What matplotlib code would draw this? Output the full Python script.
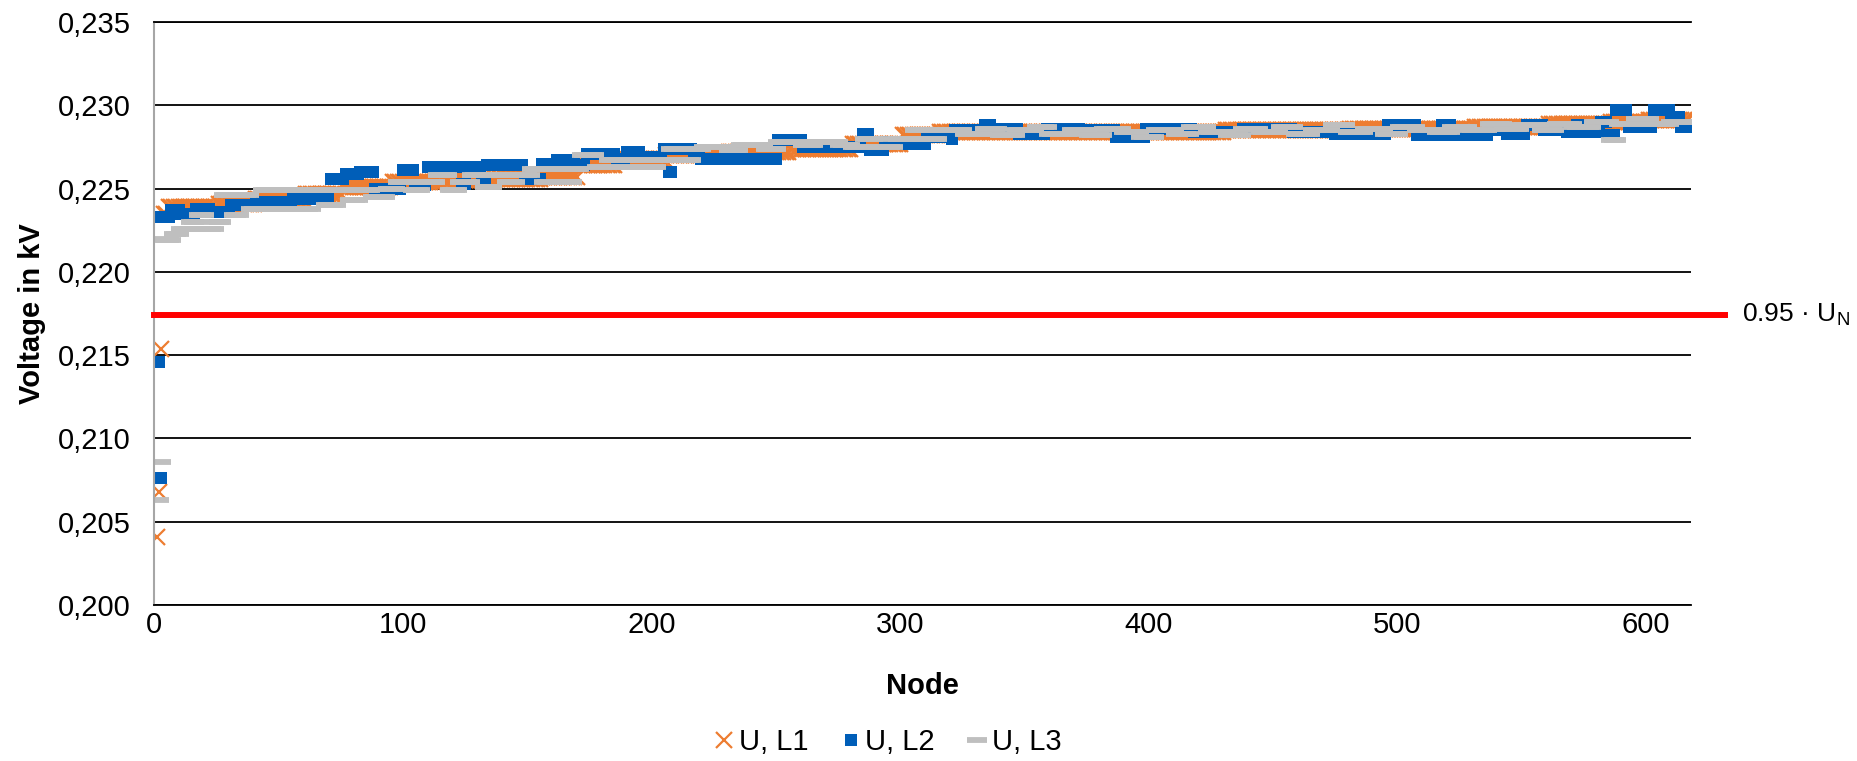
import matplotlib
matplotlib.use("Agg")
import matplotlib.pyplot as plt
import matplotlib.transforms as mtransforms
import numpy as np

plt.rcParams['font.family'] = ['Liberation Sans', 'DejaVu Sans']

# voltages in mV, given as (value, number of consecutive nodes)
l1_runs = [(204.1, 1), (206.8, 1), (215.4, 1),
           (223.5, 2), (223.9, 20), (224.1, 15), (224.4, 20), (224.7, 15),
           (225.1, 20), (225.4, 20), (225.5, 20), (225.6, 20), (225.7, 15),
           (226.4, 15), (226.8, 20), (227.0, 25), (227.2, 25), (227.4, 25),
           (227.7, 20), (228.2, 15), (228.4, 15), (228.4, 100), (228.5, 50),
           (228.6, 50), (228.7, 30), (228.9, 25), (229.0, 15), (229.1, 17)]

l2_runs = [(223.3, 1), (214.6, 1), (207.6, 1),
           (223.3, 3), (223.7, 4), (223.5, 6), (223.8, 6), (223.6, 8),
           (224.0, 10), (224.2, 15), (224.4, 15), (225.6, 6), (225.9, 6),
           (226.0, 6), (225.0, 11), (226.1, 5), (225.2, 5), (226.3, 14),
           (225.3, 2), (226.3, 6), (225.5, 2), (226.4, 15), (225.6, 7),
           (226.5, 6), (226.7, 8), (226.4, 4), (227.1, 12), (226.8, 4),
           (227.2, 6), (226.9, 9), (227.4, 2), (226.0, 2), (227.4, 8),
           (227.0, 3), (226.8, 31), (227.9, 10), (227.5, 24), (228.3, 3),
           (227.3, 6), (227.8, 8), (227.7, 9), (228.1, 10), (228.0, 1),
           (228.5, 12), (228.8, 3), (228.6, 11), (228.3, 11), (228.6, 14),
           (228.5, 14), (228.1, 12), (228.6, 19), (228.4, 20), (228.6, 20),
           (228.4, 17), (228.3, 21), (228.8, 12), (228.2, 10), (228.8, 4),
           (228.2, 15), (228.5, 7), (228.3, 8), (228.8, 7), (228.5, 9),
           (228.4, 4), (228.8, 2), (228.4, 8), (229.0, 3), (228.2, 3),
           (229.7, 5), (228.7, 10), (229.7, 7), (229.3, 4), (228.7, 4)]

l3_runs = [(222.0, 1), (206.3, 1), (208.6, 1),
           (221.9, 4), (222.3, 3), (222.6, 4), (223.0, 3), (223.4, 3),
           (222.6, 4), (223.0, 3), (224.6, 4), (223.4, 3), (224.6, 4),
           (223.8, 5), (224.9, 5), (223.8, 5), (224.9, 5), (223.8, 5),
           (224.9, 5), (224.0, 5), (224.9, 5), (224.3, 4), (224.9, 5),
           (224.5, 6), (225.0, 4), (225.4, 6), (224.9, 4), (225.4, 6),
           (225.8, 5), (224.9, 4), (225.4, 5), (225.8, 5), (225.1, 4),
           (225.8, 5), (225.4, 4), (225.8, 6), (226.2, 5), (225.4, 4),
           (226.2, 5), (225.4, 3), (226.2, 3), (227.0, 6), (226.3, 5),
           (226.7, 5), (226.3, 4), (226.7, 6), (226.3, 5), (226.7, 5),
           (227.4, 5), (226.7, 4), (227.4, 4), (227.5, 10), (227.3, 5),
           (227.6, 10), (227.4, 5), (227.8, 10), (227.6, 5), (227.8, 10),
           (227.6, 5), (227.5, 5), (228.0, 5), (227.5, 7), (228.0, 8),
           (228.5, 5), (228.0, 5), (228.5, 10),
           (228.3, 8), (228.6, 6), (228.2, 7), (228.5, 8), (228.7, 5),
           (228.3, 9), (228.5, 7), (228.2, 6), (228.6, 8), (228.4, 7),
           (228.1, 6), (228.5, 8), (228.3, 6), (228.7, 7), (228.4, 8),
           (228.2, 6), (228.6, 7), (228.4, 8), (228.7, 6), (228.3, 7),
           (228.5, 8), (228.8, 6), (228.4, 7), (228.6, 8), (228.3, 6),
           (228.7, 7), (228.5, 8), (228.4, 6), (228.7, 7), (228.5, 8),
           (228.9, 6), (228.6, 7), (228.8, 8), (228.5, 6), (228.9, 7),
           (228.7, 8), (229.0, 7), (227.9, 3), (228.9, 7), (229.2, 6),
           (228.9, 8), (229.0, 8)]

u_limit = 0.2174   # 0.95 * U_N in kV
y_ticks = [0.200, 0.205, 0.210, 0.215, 0.220, 0.225, 0.230, 0.235]
x_ticks = [0, 100, 200, 300, 400, 500, 600]


def expand(runs):
    vals = np.repeat([v for v, n in runs], [n for v, n in runs]) / 1000.0
    return np.arange(1, len(vals) + 1), vals


fig = plt.figure(figsize=(18.58, 7.61), dpi=100)
ax = fig.add_axes([0.0829, 0.205, 0.8272, 0.766])

x1, v1 = expand(l1_runs)
x2, v2 = expand(l2_runs)
x3, v3 = expand(l3_runs)

ax.plot(x1, v1, ls='none', marker='x', ms=12, mew=1.6, color='#ED7D31', label='U, L1')
ax.plot(x2, v2, ls='none', marker='s', ms=8.8, mew=0, color='#005EB8', label='U, L2')
ax.plot(x3, v3, ls='none', marker='_', ms=14, mew=4.2, color='#BFBFBF', label='U, L3')

# red limit line, running a bit past the plot area
trans = mtransforms.blended_transform_factory(ax.transAxes, ax.transData)
ax.plot([0, 1.022], [u_limit, u_limit], color='#FF0000', lw=4.3, transform=trans, clip_on=False, zorder=5)
ax.text(1.033, u_limit, r'0.95 · U$_\mathregular{N}$', transform=trans, fontsize=19,
        va='center', ha='left')

ax.set_xlim(0, 618)
ax.set_ylim(0.200, 0.235)
ax.set_xticks(x_ticks)
ax.set_yticks(y_ticks)
ax.set_yticklabels([('%.3f' % t).replace('.', ',') for t in y_ticks])
ax.tick_params(axis='both', length=0, labelsize=21)
ax.tick_params(axis='y', pad=17)
ax.tick_params(axis='x', pad=4)
ax.grid(axis='y', color='black', lw=1.3)
ax.set_axisbelow(True)

ax.spines['right'].set_visible(False)
ax.spines['top'].set_color('black')
ax.spines['top'].set_linewidth(1.3)
ax.spines['bottom'].set_color('black')
ax.spines['bottom'].set_linewidth(1.3)
ax.spines['left'].set_color('#A6A6A6')
ax.spines['left'].set_linewidth(1.5)

ax.set_xlabel('Node', fontsize=21, fontweight='bold', labelpad=24)
ax.set_ylabel('Voltage in kV', fontsize=21, fontweight='bold', labelpad=8)

fig.legend(loc='lower center', bbox_to_anchor=(0.477, -0.028), ncol=3, frameon=False,
           fontsize=21, handletextpad=0.05, columnspacing=1.0, handlelength=0.9)

fig.savefig('out.png', dpi=100)
